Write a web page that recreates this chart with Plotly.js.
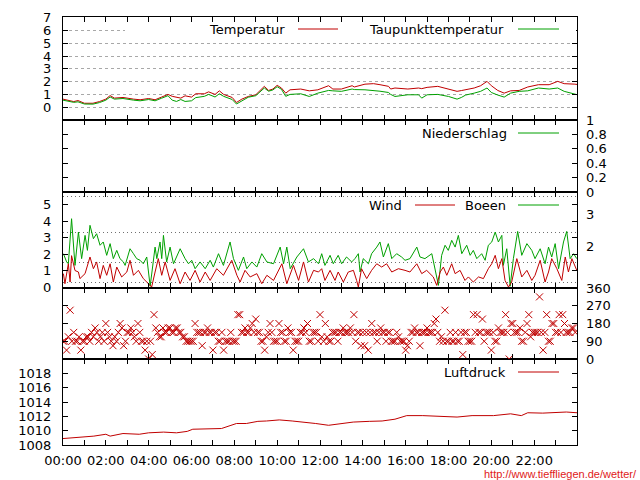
<!DOCTYPE html>
<html><head><meta charset="utf-8">
<script src="https://cdn.plot.ly/plotly-3.0.1.min.js"></script>
<style>html,body{margin:0;padding:0;background:#fff}#chart{width:640px;height:480px}</style>
</head><body><div id="chart"></div>
<script>
// ---------- DATA ----------
const timeTickHours = [0,2,4,6,8,10,12,14,16,18,20,22];
const timeLabels = ['00:00','02:00','04:00','06:00','08:00','10:00','12:00','14:00','16:00','18:00','20:00','22:00'];
const minorTickHours = [1,3,5,7,9,11,13,15,17,19,21,23];

const tempHours = [0,0.25,0.5,0.7,1.0,1.4,1.7,2.0,2.2,2.4,2.8,3.3,3.6,4.0,4.3,4.6,4.9,5.1,5.3,5.5,5.7,6.0,6.2,6.6,6.8,7.1,7.3,7.5,7.9,8.1,8.35,8.65,9.0,9.2,9.4,9.6,9.8,10.0,10.2,10.4,10.6,11.1,11.5,11.9,12.4,12.6,13.0,13.5,13.6,14.1,14.5,14.8,15.2,15.3,15.5,16.1,16.6,16.75,17.0,17.5,18.0,18.4,18.6,18.8,19.2,19.5,19.8,20.0,20.3,20.6,20.9,21.3,21.7,22.2,22.7,23.1,23.4,23.9,24.0];
const temperatur = [0.63,0.55,0.44,0.52,0.31,0.31,0.44,0.63,0.91,0.71,0.76,0.63,0.58,0.68,0.58,0.79,1.0,0.85,0.76,0.71,0.89,0.79,1.05,1.05,1.2,1.0,1.28,1.0,0.76,0.37,0.63,0.84,0.97,1.31,1.63,1.31,1.42,1.71,1.5,1.1,1.36,1.42,1.28,1.36,1.68,1.42,1.42,1.68,1.58,1.8,1.84,1.76,1.63,1.42,1.5,1.42,1.5,1.45,1.55,1.63,1.42,1.24,1.3,1.36,1.5,1.68,2.02,1.68,1.31,1.1,1.28,1.31,1.58,1.76,1.76,2.02,1.84,1.8,1.78];
const taupunkt = [0.55,0.48,0.38,0.42,0.25,0.24,0.36,0.55,0.8,0.63,0.68,0.55,0.5,0.6,0.5,0.7,0.9,0.55,0.45,0.6,0.45,0.5,0.75,0.85,1.0,0.8,1.05,0.85,0.6,0.25,0.5,0.78,0.9,1.2,1.5,1.25,1.35,1.6,1.4,0.85,1.0,1.05,0.84,1.1,1.31,1.28,1.24,1.42,1.38,1.36,1.31,1.25,1.15,1.0,0.84,0.97,0.97,0.71,0.97,1.0,0.84,0.63,0.76,0.95,1.1,1.24,1.5,1.15,0.95,0.79,1.1,1.24,1.28,1.5,1.42,1.5,1.24,1.0,0.98];

const niederschlagHours = [0,24];
const niederschlag = [0,0];

const windHours = [0.02,0.09,0.25,0.33,0.40,0.56,0.72,0.79,1.03,1.26,1.42,1.57,1.73,1.88,2.04,2.20,2.35,2.51,2.74,2.98,3.13,3.29,3.52,3.75,3.99,4.14,4.30,4.45,4.61,4.77,5.00,5.23,5.47,5.70,5.93,6.17,6.40,6.64,6.87,7.18,7.49,7.88,8.12,8.27,8.50,8.74,9.05,9.28,9.52,9.83,10.22,10.45,10.76,11.00,11.23,11.46,11.70,11.93,
  12.08,12.23,12.47,12.70,12.85,13.09,13.32,13.56,13.71,13.79,13.94,14.18,14.41,14.65,14.88,15.11,15.35,15.66,15.97,16.20,16.52,16.75,16.98,17.29,17.45,17.61,17.76,17.92,18.15,18.31,18.54,18.77,18.93,19.16,19.40,19.63,19.86,20.02,20.18,20.33,20.49,20.64,20.80,20.95,21.19,21.42,21.66,21.89,22.04,22.28,22.51,22.67,22.82,23.06,23.29,23.45,23.60,23.76,23.99];
const wind = [0.81,0.20,1.41,0.30,1.90,1.0,0.91,0.51,0.81,1.82,1.11,1.52,0.51,1.31,0.71,1.41,0.30,1.21,0.61,0.91,1.62,0.71,1.01,0.51,0.20,0.00,0.91,1.72,0.71,1.52,0.40,1.11,0.20,0.91,0.40,1.01,0.30,0.91,0.40,1.11,0.71,1.62,0.71,0.30,1.01,0.61,0.81,0.20,0.71,0.40,1.41,0.20,1.31,0.40,1.52,0.30,1.01,0.91,
  1.11,0.40,1.01,0.40,0.91,0.30,0.91,1.01,0.40,0.00,1.11,0.51,1.01,1.41,1.21,1.41,0.91,1.11,1.01,0.91,1.41,0.81,1.01,0.61,0.10,0.91,1.21,0.71,1.41,0.81,1.01,0.40,0.61,0.30,0.61,0.51,1.11,1.41,1.92,1.11,1.72,0.40,0.00,0.30,1.72,0.61,1.01,0.40,0.71,1.62,0.30,0.91,1.72,1.11,0.40,1.82,0.91,1.72,1.01];

const boeenHours = [0.02,0.17,0.25,0.40,0.56,0.72,0.87,1.03,1.14,1.26,1.42,1.57,1.73,1.88,2.04,2.20,2.35,2.51,2.66,2.82,2.90,3.13,3.29,3.44,3.60,3.75,3.91,4.07,4.30,4.38,4.53,4.61,4.69,4.84,5.00,5.16,5.47,5.70,5.86,6.01,6.17,6.40,6.64,6.87,7.02,7.26,7.49,7.80,7.96,8.19,8.43,8.58,8.82,9.05,9.28,9.52,9.83,10.14,10.30,10.45,10.61,10.92,11.23,11.46,11.70,11.93,
  12.08,12.23,12.47,12.62,12.85,13.01,13.24,13.48,13.63,13.79,13.87,14.02,14.26,14.41,14.65,14.80,14.96,15.19,15.35,15.58,15.81,15.97,16.20,16.52,16.67,16.90,17.22,17.37,17.53,17.68,17.84,17.99,18.15,18.31,18.46,18.62,18.85,19.01,19.16,19.32,19.55,19.71,19.86,20.02,20.18,20.33,20.49,20.56,20.72,20.88,21.03,21.23,21.42,21.66,21.89,22.04,22.28,22.51,22.67,22.82,22.98,23.14,23.37,23.52,23.68,23.84,23.99];
const boeen = [2.02,1.52,1.41,4.14,1.31,3.33,1.72,3.13,2.22,3.74,2.93,3.23,2.53,2.73,1.92,2.63,1.72,2.22,1.72,1.52,1.31,2.32,2.02,1.72,1.62,1.41,1.82,0.05,2.42,1.72,2.73,1.72,3.13,1.52,2.42,1.41,2.32,1.72,1.41,1.62,1.11,1.52,1.11,1.62,1.21,2.02,1.31,2.73,1.72,1.01,1.82,1.11,1.52,1.21,2.02,1.52,1.41,2.42,1.41,2.42,1.11,1.82,2.32,1.52,1.72,1.41,
  2.02,1.31,1.92,1.41,1.92,1.41,1.82,1.52,1.72,2.02,0.91,1.72,1.41,2.02,2.42,2.73,1.82,2.63,1.72,2.02,1.82,1.62,1.72,2.42,1.82,1.72,2.02,1.11,0.10,1.92,2.53,2.22,2.83,2.42,3.13,2.02,2.53,1.92,2.22,1.72,2.02,1.62,2.53,2.73,3.33,2.73,3.13,1.31,2.32,0.05,1.72,3.37,1.92,2.63,2.22,1.72,2.32,1.41,2.42,1.82,2.63,1.11,2.73,3.37,1.72,2.02,1.72];

// wind direction, one reading every 5 minutes (12 per hour), degrees
const richtungStepMinutes = 5;
const richtung = [
  90,90,45,112.5,247.5,90,135,90,90,112.5,45,90,
  90,112.5,112.5,90,135,112.5,157.5,135,90,112.5,135,90,
  180,135,112.5,90,67.5,112.5,90,135,180,157.5,67.5,90,
  135,135,157.5,135,112.5,90,180,135,90,90,45,90,
  0,90,22.5,225,157.5,135,112.5,112.5,157.5,135,135,157.5,
  157.5,135,135,157.5,157.5,135,135,112.5,112.5,90,90,90,
  90,90,180,135,135,135,67.5,135,135,157.5,135,135,
  45,135,135,90,90,135,45,90,90,90,135,90,
  90,90,225,225,135,135,157.5,135,135,157.5,180,135,
  202.5,135,135,90,90,45,112.5,135,180,135,90,90,
  90,180,135,135,90,90,157.5,135,135,45,90,90,
  90,135,135,157.5,135,180,90,90,135,135,135,90,
  225,112.5,90,180,112.5,90,90,135,135,135,90,135,
  135,157.5,135,135,135,157.5,135,225,90,135,135,67.5,
  135,67.5,135,45,135,180,135,135,90,135,157.5,135,
  135,90,135,135,90,90,90,135,112.5,90,90,90,
  45,67.5,90,135,135,157.5,135,135,67.5,135,135,135,
  157.5,135,135,135,180,202.5,135,90,112.5,90,247.5,90,
  90,135,90,90,135,90,90,135,22.5,135,135,90,
  90,90,225,135,225,135,135,202.5,90,135,135,135,
  45,135,90,90,157.5,135,135,135,225,135,0,180,
  180,135,135,135,157.5,90,90,135,180,225,112.5,135,
  135,135,135,315,135,45,135,225,90,90,180,180,
  135,135,225,135,225,180,135,135,135,157.5,157.5,135];
const richtungHours = richtung.map((_, i) => i * richtungStepMinutes / 60);

const druckHours = [0,0.87,1.44,2.0,2.2,2.8,3.56,4.0,4.7,5.3,5.8,6.06,6.6,7.4,7.8,8.1,8.56,9.1,9.5,10.1,10.7,11.25,11.8,12.4,13.0,13.55,14.3,14.9,15.5,16.05,16.8,17.6,18.4,19.1,20.1,20.9,21.4,21.7,22.4,23.5,24.0];
const luftdruck = [1008.9,1009.05,1009.24,1009.5,1009.24,1009.6,1009.5,1009.7,1009.8,1009.7,1009.9,1010.2,1010.2,1010.3,1010.7,1011.0,1011.0,1011.3,1011.35,1011.5,1011.35,1011.2,1011.0,1010.75,1011.0,1011.2,1011.3,1011.35,1011.6,1012.1,1012.1,1012.0,1011.9,1012.1,1012.1,1012.35,1012.1,1012.5,1012.45,1012.6,1012.5];

const tempTicks = [0,1,2,3,4,5,6,7];
const regenInnerTicks = [0.2,0.4,0.6,0.8];
const regenTicks = [0,0.2,0.4,0.6,0.8,1];
const regenLabels = ['0','0.2','0.4','0.6','0.8','1'];
const windTicks = [0,1,2,3,4,5];
const bftLabelPos = [2.45,4.4];
const bftLabels = ['2','3'];
const bftBounds = [0.3,1.5,3.3,5.5];
const dirInnerTicks = [90,180,270];
const dirTicks = [0,90,180,270,360];
const druckTicks = [1008,1010,1012,1014,1016,1018];

// ---------- LAYOUT ----------
const RED = '#c00000', GREEN = '#00a000';
const L = 63, R = 577, T = 17, B = 445;
const fx = px => (px - L) / (R - L);
const fy = py => (B - py) / (B - T);
const dom = (top, bot) => [fy(bot), fy(top)];
const font = {family: 'DejaVu Sans', size: 13, color: '#000'};

function xAx(anchor, labels) {
  return {domain: [0, 1], anchor: anchor, range: [0, 24], tickmode: 'array',
    tickvals: timeTickHours, ticktext: timeLabels, showticklabels: labels,
    ticks: 'inside', ticklen: 5, tickcolor: '#000', tickwidth: 1,
    showline: true, linecolor: '#000', linewidth: 1, mirror: 'allticks',
    showgrid: false, zeroline: false, tickfont: font, ticklabelstandoff: 3,
    minor: {tickmode: 'array', tickvals: minorTickHours, ticks: 'inside', ticklen: 5, tickcolor: '#000', showgrid: false}};
}
function yAx(domain, anchor, range, vals, labels, extra) {
  return Object.assign({domain: domain, anchor: anchor, range: range, tickmode: 'array',
    tickvals: vals, showticklabels: labels, ticks: 'inside', ticklen: 5, tickcolor: '#000',
    showline: true, linecolor: '#000', linewidth: 1, mirror: 'ticks', showgrid: false,
    zeroline: false, tickfont: font, ticklabelstandoff: 8}, extra || {});
}
function yRight(over, anchor, range, vals, text) {
  return {overlaying: over, side: 'right', anchor: anchor, range: range, tickmode: 'array',
    tickvals: vals, ticktext: text, ticks: '', showline: false, showgrid: false,
    zeroline: false, tickfont: font, ticklabelstandoff: 8};
}

const windRange = [-0.06, 5.76];
const layout = {
  width: 640, height: 480,
  margin: {l: L, r: 640 - R, t: T, b: 480 - B, pad: 0},
  paper_bgcolor: '#fff', plot_bgcolor: 'rgba(0,0,0,0)',
  showlegend: false, font: font,
  xaxis: xAx('y5', true),
  xaxis2: xAx('y', false),
  xaxis3: xAx('y2', false),
  xaxis4: xAx('y3', false),
  xaxis5: xAx('y4', false),
  yaxis: yAx(dom(17, 120), 'x2', [-1, 7.05], tempTicks, true,
    {showgrid: true, gridcolor: '#a8a8a8', gridwidth: 1, griddash: '3px,3px'}),
  yaxis2: yAx(dom(120, 192), 'x3', [0, 1], regenInnerTicks, false),
  yaxis3: yAx(dom(192, 288), 'x4', windRange, windTicks, true),
  yaxis4: yAx(dom(288, 359), 'x5', [0, 360], dirInnerTicks, false),
  yaxis5: yAx(dom(359, 445), 'x', [1008, 1020], druckTicks, true),
  yaxis6: yRight('y2', 'x3', [0, 1], regenTicks, regenLabels),
  yaxis7: yRight('y3', 'x4', windRange, bftLabelPos, bftLabels),
  yaxis8: yRight('y4', 'x5', [0, 360], dirTicks, dirTicks.map(String)),
  yaxis9: {overlaying: 'y3', anchor: 'x4', range: windRange, tickmode: 'array', tickvals: bftBounds,
    showticklabels: false, ticks: '', showline: false, zeroline: false,
    showgrid: true, gridcolor: '#707070', gridwidth: 1, griddash: '1px,3px'},
  shapes: [], annotations: []
};

// thick separators between the upper panels
[120, 192].forEach(py => layout.shapes.push({type: 'line', xref: 'paper', yref: 'paper',
  x0: 0, x1: 1, y0: fy(py), y1: fy(py), line: {color: '#000', width: 2}, layer: 'above'}));
// opaque key row in temperature panel
layout.shapes.push({type: 'rect', xref: 'paper', yref: 'paper', x0: fx(125), x1: fx(576),
  y0: fy(36), y1: fy(23), fillcolor: '#fff', line: {width: 0}, layer: 'above'});

function key(label, textRight, lineL, lineR, py, color) {
  layout.annotations.push({xref: 'paper', yref: 'paper', x: fx(textRight), y: fy(py),
    xanchor: 'right', yanchor: 'middle', text: label, showarrow: false, font: font, borderpad: 0});
  layout.shapes.push({type: 'line', xref: 'paper', yref: 'paper', x0: fx(lineL), x1: fx(lineR),
    y0: fy(py), y1: fy(py), line: {color: color, width: 1}, layer: 'above'});
}
key('Temperatur', 286, 298, 338, 29, RED);
key('Taupunkttemperatur', 505, 518, 559, 29, GREEN);
key('Niederschlag', 508, 518, 559, 133, GREEN);
key('Wind', 403, 415, 455, 205, RED);
key('Boeen', 507, 518, 559, 205, GREEN);
key('Luftdruck', 507, 518, 559, 372, RED);

layout.annotations.push({xref: 'paper', yref: 'paper', x: fx(638), y: fy(474), xanchor: 'right',
  yanchor: 'middle', text: 'http://www.tieffliegen.de/wetter/', showarrow: false, borderpad: 0,
  font: {family: 'Liberation Sans Narrow, Liberation Sans, sans-serif', size: 11, color: '#e02020'}});

const line = (x, y, xa, ya, color) => ({type: 'scatter', mode: 'lines', x: x, y: y, xaxis: xa, yaxis: ya,
  line: {color: color, width: 1}, hoverinfo: 'skip'});

const data = [
  line(tempHours, temperatur, 'x2', 'y', RED),
  line(tempHours, taupunkt, 'x2', 'y', GREEN),
  line(niederschlagHours, niederschlag, 'x3', 'y2', GREEN),
  line(boeenHours, boeen, 'x4', 'y3', GREEN),
  line(windHours, wind, 'x4', 'y3', RED),
  {type: 'scatter', mode: 'markers', x: richtungHours, y: richtung, xaxis: 'x5', yaxis: 'y4',
    marker: {symbol: 'x-thin', size: 7, color: RED, line: {color: RED, width: 1}}, hoverinfo: 'skip'},
  line(druckHours, luftdruck, 'x', 'y5', RED),
  // empty traces so overlaying label axes get drawn
  {type: 'scatter', x: [], y: [], xaxis: 'x3', yaxis: 'y6'},
  {type: 'scatter', x: [], y: [], xaxis: 'x4', yaxis: 'y7'},
  {type: 'scatter', x: [], y: [], xaxis: 'x5', yaxis: 'y8'},
  {type: 'scatter', x: [], y: [], xaxis: 'x4', yaxis: 'y9'}
];

Plotly.newPlot('chart', data, layout, {displayModeBar: false, staticPlot: true});
</script></body></html>
